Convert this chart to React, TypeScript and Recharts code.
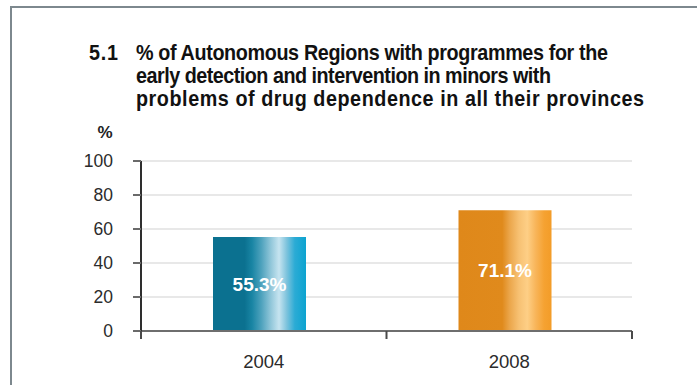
import React from 'react';
import { BarChart, Bar, XAxis, YAxis, CartesianGrid, Cell, LabelList, Rectangle } from 'recharts';

const categories = ['2004', '2008'];
const values = [55.3, 71.1];
const yTicks = [0, 20, 40, 60, 80, 100];
const titleNumber = '5.1';
const titleLines = [
  '% of Autonomous Regions with programmes for the',
  'early detection and intervention in minors with',
  'problems of drug dependence in all their provinces',
];
const yUnit = '%';

const data = categories.map((c, i) => ({ year: c, value: values[i] }));

const TICK_MARGIN = 24;
const BAR_SHIFT = -4;

const CategoryTick = (props: any) => {
  const { x, y, payload, index, visibleTicksCount } = props;
  const half = payload && payload.offset != null ? payload.offset : 0;
  const axisY = y - TICK_MARGIN;
  const count = visibleTicksCount != null ? visibleTicksCount : categories.length;
  return (
    <g>
      <line x1={x - half} x2={x - half} y1={axisY} y2={axisY + 8} stroke="#4a4a4a" strokeWidth={2} />
      {index === count - 1 && (
        <line x1={x + half} x2={x + half} y1={axisY} y2={axisY + 8} stroke="#4a4a4a" strokeWidth={2} />
      )}
      <text
        x={x}
        y={y}
        dy="0.71em"
        textAnchor="middle"
        fontSize={18.5}
        fill="#2b2b2b"
        fontFamily="'Liberation Sans', Arial, sans-serif"
      >
        {payload.value}
      </text>
    </g>
  );
};

const ShiftedBar = (props: any) => <Rectangle {...props} x={props.x + BAR_SHIFT} />;

const gradientIds = ['gradBlue', 'gradOrange'];

export default function App() {
  const titleFont = "'Liberation Sans', Arial, sans-serif";
  const titleX = 136;
  const titleWidths = [472, 415, 508];
  const squeeze = 0.92;
  return (
    <div style={{ position: 'absolute', left: 0, top: 0, width: 697, height: 385, background: '#fff', overflow: 'hidden' }}>
      <BarChart
        width={697}
        height={385}
        data={data}
        margin={{ top: 161, right: 65, bottom: 0, left: 0 }}
        style={{ fontFamily: "'Liberation Sans', Arial, sans-serif" }}
      >
        <defs>
          <linearGradient id="gradBlue" x1="0" y1="0" x2="1" y2="0">
            <stop offset="0" stopColor="#0b7190" />
            <stop offset="0.34" stopColor="#0b7190" />
            <stop offset="0.42" stopColor="#1985a4" />
            <stop offset="0.52" stopColor="#4ea2bd" />
            <stop offset="0.62" stopColor="#90c6d9" />
            <stop offset="0.71" stopColor="#c6e4f0" />
            <stop offset="0.79" stopColor="#80c4dd" />
            <stop offset="0.88" stopColor="#2babd5" />
            <stop offset="1" stopColor="#0ca3d0" />
          </linearGradient>
          <linearGradient id="gradOrange" x1="0" y1="0" x2="1" y2="0">
            <stop offset="0" stopColor="#df881a" />
            <stop offset="0.47" stopColor="#e08a1c" />
            <stop offset="0.55" stopColor="#eba64b" />
            <stop offset="0.65" stopColor="#f7c173" />
            <stop offset="0.74" stopColor="#fecf86" />
            <stop offset="0.83" stopColor="#f8b55a" />
            <stop offset="0.92" stopColor="#f5a232" />
            <stop offset="1" stopColor="#f39c28" />
          </linearGradient>
        </defs>
        <CartesianGrid vertical={false} stroke="#e8e8e8" strokeWidth={2} />
        <XAxis
          dataKey="year"
          tickLine={false}
          tickSize={0}
          tickMargin={TICK_MARGIN}
          axisLine={{ stroke: '#6e6e6e', strokeWidth: 2 }}
          tick={<CategoryTick />}
          height={54}
          interval={0}
        />
        <YAxis
          domain={[0, 100]}
          ticks={yTicks}
          width={141}
          tickSize={8}
          tickMargin={20}
          axisLine={{ stroke: '#2e2e2e', strokeWidth: 2 }}
          tickLine={{ stroke: '#6a6a6a', strokeWidth: 2 }}
          tick={{ fontSize: 17.5, fill: '#2b2b2b' }}
        />
        <Bar dataKey="value" barSize={93} isAnimationActive={false} shape={<ShiftedBar />}>
          {data.map((d, i) => (
            <Cell key={d.year} fill={`url(#${gradientIds[i]})`} />
          ))}
          <LabelList
            dataKey="value"
            position="center"
            formatter={(v: any) => `${v}%`}
            fill="#ffffff"
            fontSize={19}
            fontWeight="bold"
            offset={0}
            dx={BAR_SHIFT}
          />
        </Bar>
      </BarChart>
      <svg
        width={697}
        height={385}
        style={{ position: 'absolute', left: 0, top: 0, pointerEvents: 'none' }}
      >
        <polyline points="11,385 11,7 697,7" fill="none" stroke="#7d888e" strokeWidth={2} />
        <text
          transform={`translate(89,60) scale(${squeeze},1)`}
          fontSize={21.5}
          fontWeight="bold"
          fill="#111"
          fontFamily={titleFont}
          textLength={29 / squeeze}
          lengthAdjust="spacing"
        >
          {titleNumber}
        </text>
        {titleLines.map((line, i) => (
          <text
            key={i}
            transform={`translate(${titleX},${60 + i * 23}) scale(${squeeze},1)`}
            fontSize={21.5}
            fontWeight="bold"
            fill="#111"
            fontFamily={titleFont}
            textLength={titleWidths[i] / squeeze}
            lengthAdjust="spacing"
          >
            {line}
          </text>
        ))}
        <text
          x={105}
          y={138}
          fontSize={17}
          fontWeight="bold"
          fill="#222"
          textAnchor="middle"
          fontFamily="'Liberation Sans', Arial, sans-serif"
        >
          {yUnit}
        </text>
      </svg>
    </div>
  );
}
